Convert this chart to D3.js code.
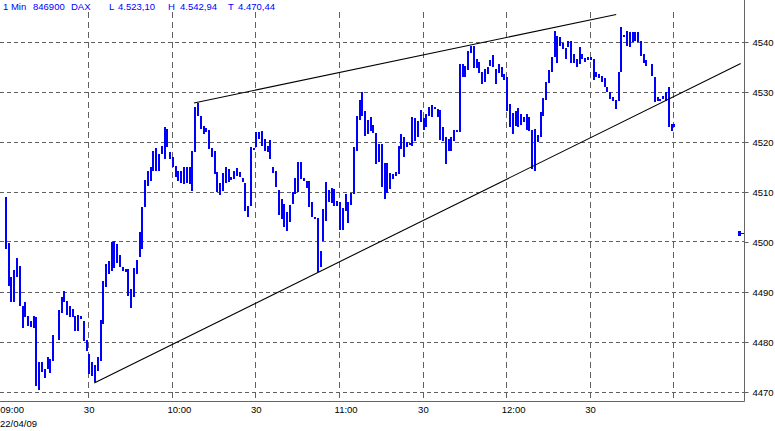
<!DOCTYPE html>
<html><head><meta charset="utf-8">
<script src="https://cdn.jsdelivr.net/npm/d3@7"></script>
<style>
body{margin:0;background:#fff}
svg{display:block}
text{font-family:"Liberation Sans",Arial,sans-serif}
</style>
</head><body>
<svg id="c" width="775" height="431"></svg>
<script>
// ---- data (1-minute bars, minutes after 09:00) ----
const barMinute=[0,1,2,3,4,5,6,7,8,9,10,11,12,13,14,15,16,17,19,20,21,22,23,24,25,26,27,28,29,30,31,32,33,34,35,36,37,38,39,40,41,42,43,44,45,46,47,48,49,50,51,52,53,54,55,56,57,58,59,60,61,62,63,64,65,66,67,68,69,70,71,72,73,74,75,76,77,78,79,80,81,82,83,84,85,86,87,88,89,90,91,92,93,94,95,96,97,98,99,100,101,102,103,104,105,106,107,108,109,110,111,112,113,114,115,116,117,118,119,120,121,122,123,124,125,126,127,128,129,130,131,132,133,134,135,136,137,138,139,140,141,142,143,144,145,146,147,148,149,150,151,152,153,154,155,156,157,158,159,160,161,162,163,164,165,166,167,168,169,170,171,172,173,174,175,176,177,178,179,180,181,182,183,184,185,186,187,188,189,190,191,192,193,194,195,196,197,198,199,200,201,202,203,204,205,206,207,208,209,210,211,212,213,214,215,216,217,218,219,220,221,222,223,224,225,226,227,228,229,230,232,233,234,235,236,237,238,239,240];
const barHigh=[4508.9,4499.7,4492.9,4494.4,4496.7,4495.2,4487.2,4488.0,4485.2,4484.2,4485.2,4485.0,4476.0,4476.0,4474.5,4477.0,4476.5,4481.4,4486.4,4488.9,4490.2,4488.2,4487.2,4486.5,4485.2,4485.4,4485.2,4484.2,4480.4,4477.5,4475.9,4475.4,4477.0,4484.3,4492.2,4495.5,4496.2,4500.0,4500.2,4499.5,4497.4,4495.0,4494.5,4494.5,4490.5,4494.7,4496.4,4501.9,4507.0,4512.3,4514.2,4514.9,4518.2,4518.7,4517.5,4519.2,4523.0,4522.5,4518.0,4516.9,4515.2,4514.2,4514.1,4514.9,4515.0,4514.9,4518.2,4526.9,4527.7,4525.2,4523.2,4522.7,4522.3,4518.7,4518.2,4513.9,4511.7,4513.7,4514.9,4514.5,4513.0,4514.2,4514.7,4513.9,4512.7,4511.7,4507.2,4519.0,4518.7,4522.0,4521.9,4522.2,4520.5,4519.2,4520.3,4515.0,4514.2,4510.3,4508.5,4507.5,4505.9,4507.4,4509.9,4512.7,4516.0,4515.9,4512.7,4512.1,4512.1,4507.9,4505.0,4504.7,4498.2,4506.5,4511.9,4510.3,4510.8,4510.5,4508.2,4507.9,4506.7,4509.5,4507.9,4509.7,4518.9,4525.2,4528.4,4530.0,4526.2,4524.3,4525.0,4523.4,4521.7,4519.5,4519.5,4515.7,4515.7,4513.7,4513.5,4513.9,4519.2,4521.5,4520.9,4519.9,4519.7,4525.0,4524.7,4524.2,4526.3,4524.7,4525.5,4526.9,4527.4,4526.9,4526.5,4526.3,4522.9,4521.0,4520.5,4521.0,4522.3,4522.3,4535.5,4535.5,4535.2,4538.2,4539.2,4539.2,4536.5,4535.9,4533.9,4534.5,4535.0,4536.3,4537.4,4534.5,4535.5,4535.0,4533.5,4532.9,4527.5,4525.7,4526.1,4526.7,4525.5,4525.0,4525.5,4525.0,4522.3,4522.5,4521.4,4525.9,4528.7,4531.9,4534.3,4537.0,4542.2,4541.2,4540.9,4539.7,4538.7,4540.1,4540.1,4537.5,4536.5,4539.0,4537.5,4536.7,4537.0,4536.9,4536.5,4533.9,4533.5,4533.2,4532.7,4530.9,4529.9,4529.0,4528.3,4533.9,4542.9,4541.4,4542.2,4541.9,4542.0,4541.9,4541.9,4540.1,4537.5,4536.3,4535.5,4533.0,4528.9,4528.5,4529.1,4530.0,4531.0,4523.5,4523.5];
const barLow=[4498.5,4491.2,4487.9,4487.9,4492.9,4487.1,4482.7,4484.9,4483.2,4482.9,4482.7,4471.1,4470.4,4474.0,4472.7,4474.5,4473.7,4476.2,4480.3,4485.7,4487.9,4485.4,4484.9,4484.9,4482.2,4482.1,4484.5,4480.2,4478.1,4473.5,4473.2,4471.9,4474.2,4476.2,4483.5,4491.0,4493.5,4494.2,4494.7,4495.7,4494.9,4494.1,4493.9,4489.1,4486.7,4488.9,4493.5,4496.9,4498.5,4506.9,4511.2,4512.2,4514.2,4514.2,4514.2,4517.5,4516.5,4518.9,4516.5,4515.0,4512.9,4512.2,4511.7,4511.5,4511.7,4511.5,4510.2,4517.9,4525.2,4522.5,4521.5,4521.9,4518.5,4516.9,4513.5,4509.9,4509.4,4510.2,4511.7,4511.9,4512.3,4512.5,4513.2,4512.9,4511.9,4506.1,4504.9,4507.1,4518.3,4518.9,4520.5,4519.2,4518.2,4518.0,4516.5,4513.7,4510.9,4505.3,4504.5,4502.9,4502.1,4503.9,4507.5,4509.5,4509.9,4512.5,4512.1,4510.7,4506.9,4504.9,4504.5,4494.0,4494.9,4500.2,4504.2,4507.9,4507.7,4507.2,4507.2,4502.3,4502.3,4506.2,4503.7,4507.4,4509.5,4518.2,4524.3,4525.2,4521.2,4521.5,4522.2,4521.7,4515.5,4515.9,4511.0,4508.5,4509.7,4510.5,4512.5,4513.2,4513.5,4518.5,4517.0,4518.9,4519.3,4519.2,4520.2,4520.9,4523.9,4522.3,4522.9,4525.2,4525.0,4526.5,4524.9,4520.3,4520.2,4515.5,4518.2,4518.2,4520.2,4521.9,4521.9,4533.0,4532.9,4534.3,4537.7,4534.7,4534.7,4533.7,4531.5,4531.9,4533.5,4535.2,4534.9,4531.5,4533.7,4532.9,4532.3,4526.2,4523.0,4521.5,4523.2,4523.0,4523.4,4523.9,4522.3,4522.2,4514.5,4514.1,4519.9,4520.9,4525.2,4528.3,4531.7,4533.9,4537.0,4535.7,4539.2,4538.5,4536.5,4538.9,4535.7,4535.7,4534.9,4535.5,4536.5,4535.9,4536.3,4536.3,4532.3,4533.0,4532.7,4531.9,4530.9,4529.9,4528.5,4528.1,4526.5,4528.2,4533.9,4541.0,4539.2,4538.9,4540.0,4540.2,4539.9,4537.2,4535.7,4535.2,4533.2,4527.9,4528.2,4528.2,4528.5,4528.2,4523.0,4522.2,4522.9];

const priceTicks=[4470,4480,4490,4500,4510,4520,4530,4540];
const gridTimes=["09:30","10:00","10:30","11:00","11:30","12:00","12:30","13:00"];
const labelTimes=["09:00","09:30","10:00","10:30","11:00","11:30","12:00","12:30"];
const labelText=["09:00","30","10:00","30","11:00","30","12:00","30"];
const dateLabel="22/04/09";
const headerItems=["1 Min","846900","DAX","L","4.523,10","H","4.542,94","T","4.470,44"];
const upperTrend=[{m:67.9,p:4527.7},{m:219.5,p:4545.4}];
const lowerTrend=[{m:32.1,p:4471.7},{m:264.2,p:4535.6}];
const markerPrice=4501.7;

// ---- drawing ----
const svg=d3.select("#c");
const day=new Date(2009,3,22,9,0);
const tm=m=>new Date(day.getTime()+m*60000);
const parseT=s=>{const [h,mi]=s.split(":").map(Number);return new Date(2009,3,22,h,mi);};
const x=d3.scaleTime().domain([parseT("09:00"),parseT("13:00")]).range([4.8,673.3]);
const y=d3.scaleLinear().domain([4470,4540]).range([391.5,41.5]);
const axisX=744, axisY=401;

// header
const headerX=[3,33,71,109,118,168,180,228,238];
svg.append("g").selectAll("text").data(headerItems).join("text")
  .attr("x",(d,i)=>headerX[i]).attr("y",9.5)
  .attr("font-size",9.5).attr("fill","#0000ff").text(d=>d);

// horizontal grid
svg.append("g").selectAll("line").data(priceTicks).join("line")
  .attr("x1",0).attr("x2",axisX)
  .attr("y1",d=>Math.round(y(d))+0.5).attr("y2",d=>Math.round(y(d))+0.5)
  .attr("stroke","#606060").attr("stroke-dasharray","4,3");
// vertical grid
svg.append("g").selectAll("line").data(gridTimes).join("line")
  .attr("x1",d=>Math.round(x(parseT(d)))+0.5).attr("x2",d=>Math.round(x(parseT(d)))+0.5)
  .attr("y1",12).attr("y2",axisY-2)
  .attr("stroke","#606060").attr("stroke-dasharray","6,4");

// right axis
const yAxis=d3.axisRight(y).tickValues(priceTicks).tickSize(4).tickPadding(4).tickFormat(d3.format("d"));
const ga=svg.append("g").attr("transform",`translate(${axisX+0.5},0.5)`).call(yAxis);
ga.select(".domain").remove();
ga.selectAll(".tick line").attr("stroke","#606060");
ga.selectAll(".tick text").attr("font-size",9.5).attr("fill","#000").attr("font-family","'Liberation Sans',Arial,sans-serif");

// bottom axis labels
const xAxis=d3.axisBottom(x).tickValues(labelTimes.map(parseT)).tickSize(0).tickPadding(0)
  .tickFormat((d,i)=>labelText[i]);
const gx=svg.append("g").attr("transform",`translate(0,${axisY})`).call(xAxis);
gx.select(".domain").remove();
gx.selectAll(".tick text").attr("text-anchor","start").attr("dx",-5).attr("y",5)
  .attr("font-size",9.5).attr("fill","#000").attr("font-family","'Liberation Sans',Arial,sans-serif");
svg.append("text").attr("x",0).attr("y",427).attr("font-size",9.5).attr("fill","#000").text(dateLabel);

// axis lines
svg.append("line").attr("x1",0).attr("x2",axisX+0.5).attr("y1",axisY+0.5).attr("y2",axisY+0.5).attr("stroke","#666");
svg.append("line").attr("x1",axisX+0.5).attr("x2",axisX+0.5).attr("y1",0).attr("y2",axisY+0.5).attr("stroke","#666");

// bars
const bars=barMinute.map((m,i)=>({m,h:barHigh[i],l:barLow[i]}));
svg.append("g").attr("shape-rendering","crispEdges").selectAll("rect").data(bars).join("rect")
  .attr("x",d=>x(tm(d.m))).attr("width",2)
  .attr("y",d=>y(d.h)).attr("height",d=>Math.max(1.5,y(d.l)-y(d.h)))
  .attr("fill","#0000ff");

// trend lines
const line=d3.line().x(d=>x(tm(d.m))).y(d=>y(d.p));
[upperTrend,lowerTrend].forEach(t=>svg.append("path").attr("d",line(t)).attr("fill","none").attr("stroke","#000").attr("stroke-width",1.1));

// price marker
const my=Math.round(y(markerPrice));
svg.append("rect").attr("x",axisX-6).attr("y",my-2).attr("width",3).attr("height",5).attr("fill","#0000ff");
svg.append("line").attr("x1",axisX-3).attr("x2",axisX).attr("y1",my+0.5).attr("y2",my+0.5).attr("stroke","#0000ff");
</script>
</body></html>
